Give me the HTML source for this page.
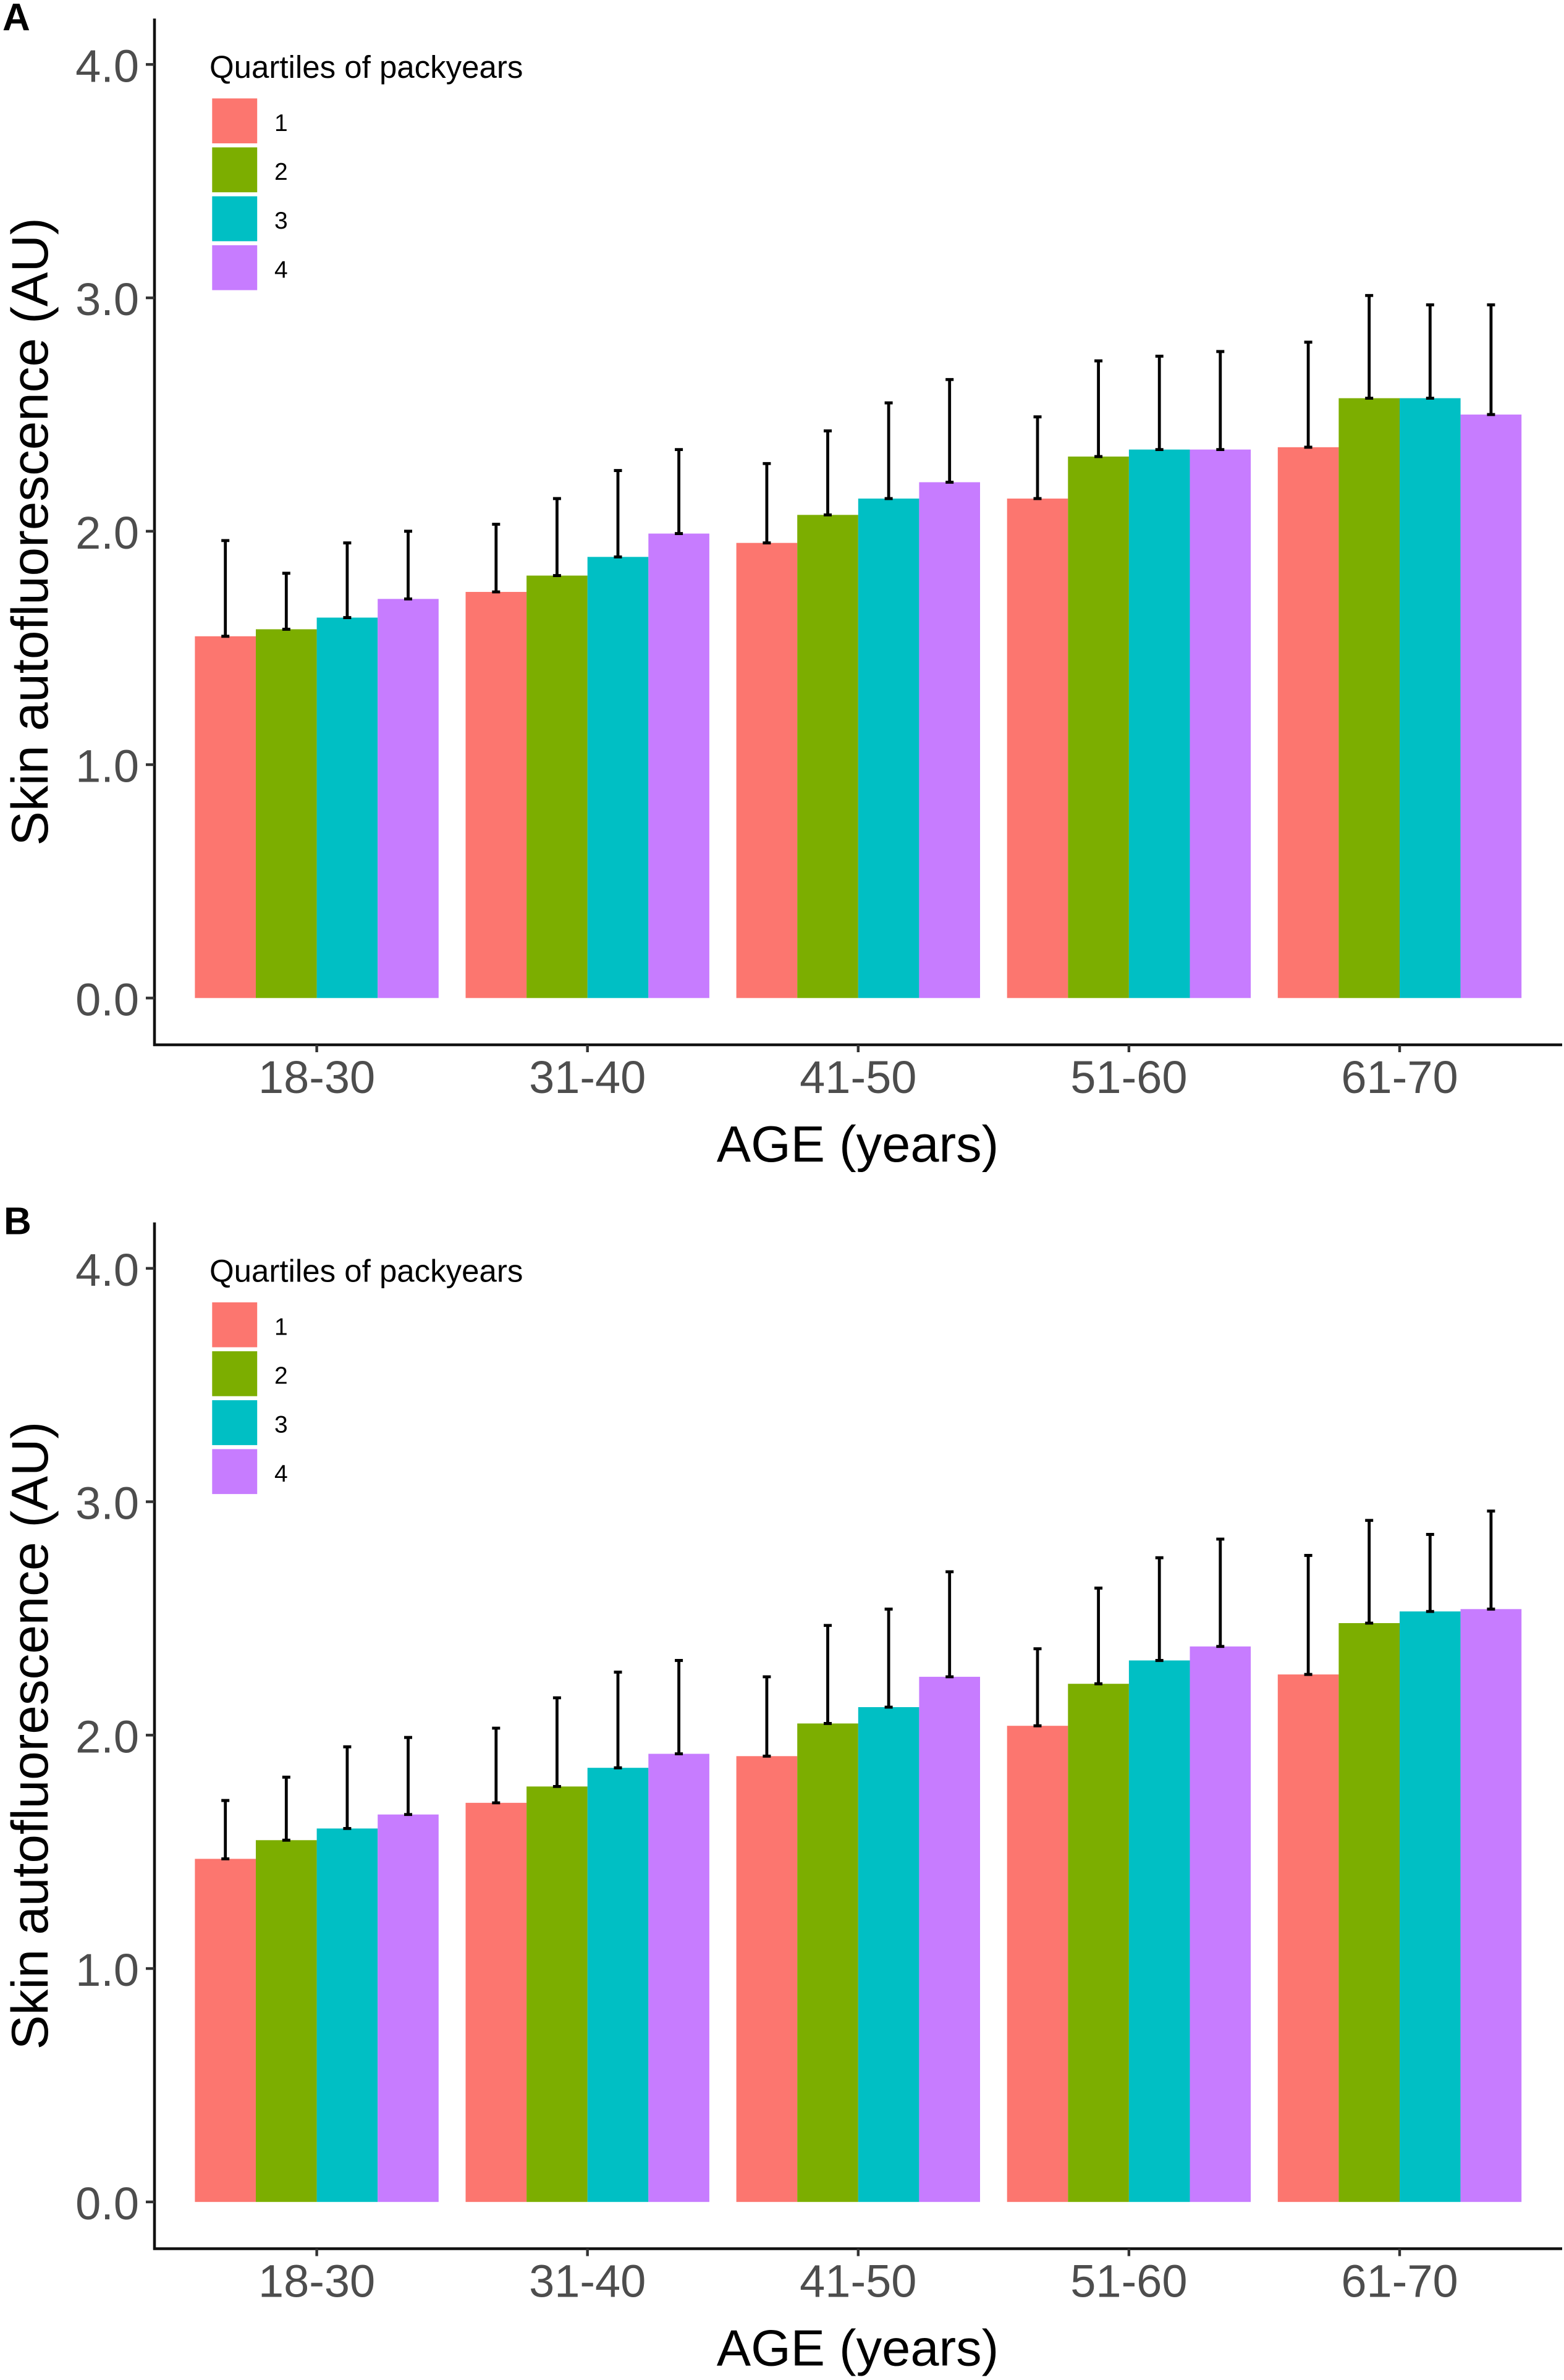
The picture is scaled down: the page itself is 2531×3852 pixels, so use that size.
<!DOCTYPE html>
<html lang="en">
<head>
<meta charset="utf-8">
<title>Skin autofluorescence by age and quartiles of packyears</title>
<style>
  html, body { margin: 0; padding: 0; background: #ffffff; }
  svg { display: block; }
  text { font-family: "Liberation Sans", Arial, sans-serif; }
</style>
</head>
<body>
<svg id="figure" xmlns="http://www.w3.org/2000/svg" width="2531" height="3852" viewBox="0 0 2531 3852"></svg>
<script>
// ---- Data ----
const categories = ["18-30", "31-40", "41-50", "51-60", "61-70"];
const quartileLabels = ["1", "2", "3", "4"];
const quartileColors = ["#FC766F", "#7CAE00", "#00BFC4", "#C77CFF"];
const yTickValues = [0, 1, 2, 3, 4];
const yTickLabels = ["0.0", "1.0", "2.0", "3.0", "4.0"];

// Panel A means and upper error limits, one array per quartile
const a_q1 = [1.55, 1.74, 1.95, 2.14, 2.36];
const a_q2 = [1.58, 1.81, 2.07, 2.32, 2.57];
const a_q3 = [1.63, 1.89, 2.14, 2.35, 2.57];
const a_q4 = [1.71, 1.99, 2.21, 2.35, 2.50];
const a_q1Upper = [1.96, 2.03, 2.29, 2.49, 2.81];
const a_q2Upper = [1.82, 2.14, 2.43, 2.73, 3.01];
const a_q3Upper = [1.95, 2.26, 2.55, 2.75, 2.97];
const a_q4Upper = [2.00, 2.35, 2.65, 2.77, 2.97];

// Panel B means and upper error limits, one array per quartile
const b_q1 = [1.47, 1.71, 1.91, 2.04, 2.26];
const b_q2 = [1.55, 1.78, 2.05, 2.22, 2.48];
const b_q3 = [1.60, 1.86, 2.12, 2.32, 2.53];
const b_q4 = [1.66, 1.92, 2.25, 2.38, 2.54];
const b_q1Upper = [1.72, 2.03, 2.25, 2.37, 2.77];
const b_q2Upper = [1.82, 2.16, 2.47, 2.63, 2.92];
const b_q3Upper = [1.95, 2.27, 2.54, 2.76, 2.86];
const b_q4Upper = [1.99, 2.32, 2.70, 2.84, 2.96];

const panelLetters = ["A", "B"];
const xAxisTitle = "AGE (years)";
const yAxisTitle = "Skin autofluorescence (AU)";
const legendTitle = "Quartiles of packyears";

// ---- Layout ----
const SVG_NS = "http://www.w3.org/2000/svg";
const root = document.getElementById("figure");
const AXIS_X = 250, AXIS_RIGHT = 2528;
const PANEL_STEP = 1948.5;
const ZERO_Y = 1615.3, UNIT_PX = 377.75;
const AXIS_TOP = 30, AXIS_BOTTOM = 1691;
const FIRST_CENTER = 512.6, GROUP_STEP = 438.1, BAR_W = 98.6;

function yScale(value, dy) { return ZERO_Y + dy - value * UNIT_PX; }
function xCenter(catIndex) { return FIRST_CENTER + catIndex * GROUP_STEP; }
function xBar(catIndex, seriesIndex, nSeries) {
  return xCenter(catIndex) - (nSeries * BAR_W) / 2 + seriesIndex * BAR_W;
}

function make(tag, parent, attrs, content) {
  const el = document.createElementNS(SVG_NS, tag);
  for (const k in attrs) el.setAttribute(k, attrs[k]);
  if (content !== undefined) el.textContent = content;
  parent.appendChild(el);
  return el;
}

function drawPanel(panelIndex, means, uppers) {
  const dy = panelIndex * PANEL_STEP;
  const key = panelLetters[panelIndex].toLowerCase();

  const g = make("g", root, {});
  
  

  const letter = make("text", g, { x: panelIndex === 0 ? 4 : 6, y: 49 + dy, "font-size": 62, "font-weight": "bold", fill: "#000" }, panelLetters[panelIndex]);
  
  

  // Bars
  means.forEach(function (series, s) {
    series.forEach(function (value, c) {
      const top = yScale(value, dy);
      const bar = make("rect", g, { x: xBar(c, s, means.length), y: top, width: BAR_W, height: yScale(0, dy) - top, fill: quartileColors[s] });
      
      
    });
  });

  // Error bars
  means.forEach(function (series, s) {
    series.forEach(function (value, c) {
      const cx = xBar(c, s, means.length) + BAR_W / 2;
      const yMean = yScale(value, dy);
      const yUp = yScale(uppers[s][c], dy);
      const err = make("path", g, {
        d: "M" + cx + " " + yMean + "V" + yUp + "M" + (cx - 6.5) + " " + yUp + "H" + (cx + 6.5) + "M" + (cx - 6.5) + " " + yMean + "H" + (cx + 6.5),
        stroke: "#000", "stroke-width": 4.8, fill: "none"
      });
      
      
    });
  });

  // Axes
  const yAxis = make("line", g, { x1: AXIS_X, x2: AXIS_X, y1: AXIS_TOP + dy, y2: AXIS_BOTTOM + dy + 2, stroke: "#111", "stroke-width": 4.6 });
  
  
  const xAxis = make("line", g, { x1: AXIS_X - 2, x2: AXIS_RIGHT, y1: AXIS_BOTTOM + dy, y2: AXIS_BOTTOM + dy, stroke: "#111", "stroke-width": 4.6 });
  
  

  yTickValues.forEach(function (v, i) {
    const ty = yScale(v, dy);
    const tick = make("line", g, { x1: AXIS_X - 14, x2: AXIS_X, y1: ty, y2: ty, stroke: "#333", "stroke-width": 4.4 });
    
    
    const label = make("text", g, { x: 225, y: ty + 28, "font-size": 74, "text-anchor": "end", fill: "#4D4D4D" }, yTickLabels[i]);
    
    
  });

  categories.forEach(function (cat, c) {
    const cx = xCenter(c);
    const tick = make("line", g, { x1: cx, x2: cx, y1: AXIS_BOTTOM + dy, y2: AXIS_BOTTOM + dy + 12, stroke: "#333", "stroke-width": 4.4 });
    
    
    const label = make("text", g, { x: cx, y: 1769 + dy, "font-size": 74, "text-anchor": "middle", fill: "#4D4D4D" }, cat);
    
    
  });

  const xTitle = make("text", g, { x: 1388, y: 1880 + dy, "font-size": 83, "text-anchor": "middle", fill: "#000" }, xAxisTitle);
  
  

  const yCy = 860.5 + dy;
  const yTitle = make("text", g, { x: 0, y: 0, transform: "translate(77 " + yCy + ") rotate(-90)", "font-size": 83.5, "text-anchor": "middle", fill: "#000" }, yAxisTitle);
  
  

  // Legend
  const legend = make("g", g, {});
  
  
  const lTitle = make("text", legend, { x: 339, y: 126 + dy, "font-size": 51, fill: "#000" }, legendTitle);
  
  
  quartileLabels.forEach(function (q, i) {
    const top = 159.3 + i * 79.2 + dy;
    const swatch = make("rect", legend, { x: 343.3, y: top, width: 72.9, height: 72.7, fill: quartileColors[i] });
    
    
    const label = make("text", legend, { x: 444, y: top + 52.5, "font-size": 39, fill: "#000" }, q);
    
    
  });
}

drawPanel(0, [a_q1, a_q2, a_q3, a_q4], [a_q1Upper, a_q2Upper, a_q3Upper, a_q4Upper]);
drawPanel(1, [b_q1, b_q2, b_q3, b_q4], [b_q1Upper, b_q2Upper, b_q3Upper, b_q4Upper]);
</script>
</body>
</html>
